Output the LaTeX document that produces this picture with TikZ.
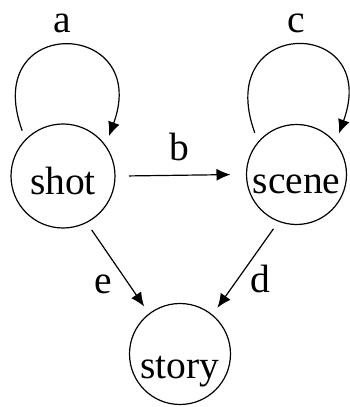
\documentclass[tikz,border=0pt]{standalone}
\usepackage{fontspec}
\setmainfont{Liberation Serif}
\usetikzlibrary{arrows.meta,calc}
\begin{document}
\begin{tikzpicture}[x=1pt,y=1pt,
  every node/.style={font=\fontsize{39.5}{45}\selectfont, inner sep=0pt},
  state/.style={draw, circle, line width=1.2pt, outer sep=9pt, text depth=0pt},
  lbl/.style={inner sep=0pt},
  arr/.style={line width=1.2pt, -{Latex[length=14pt,width=12pt]}}]
\useasboundingbox (0,0) rectangle (350,407);
\node[state, minimum size=104pt, text height=38pt] (shot) at (63,231) {shot};
\node[state, minimum size=100pt, text height=38pt] (scene) at (296.5,232.5) {scene};
\node[state, minimum size=101pt, text height=50pt] (story) at (180,53) {story};
\draw[arr] (shot.132) .. controls ($(shot.132)+(110:125)$) and ($(shot.41)+(70:125)$) .. (shot.41);
\draw[arr] (scene.135) .. controls ($(scene.135)+(110:125)$) and ($(scene.44)+(70:125)$) .. (scene.44);
\draw[arr, shorten <=5pt, shorten >=7pt] (shot.0) -- (scene.180);
\draw[arr] (shot.-62) -- (story.127);
\draw[arr] (scene.-113) -- (story.51);
\node[lbl] (la) at (62,384) {a};
\node[lbl] (lc) at (296,384) {c};
\node[lbl] (lb) at (179,260) {b};
\node[lbl] (le) at (103,123) {e};
\node[lbl] (ld) at (260,128) {d};
\end{tikzpicture}
\end{document}
